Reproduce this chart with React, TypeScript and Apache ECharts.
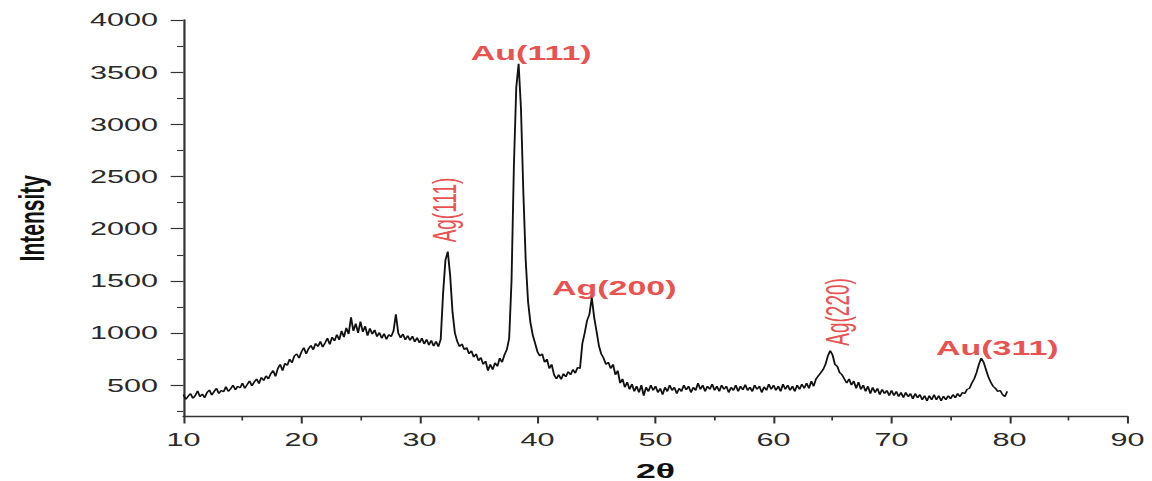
import React, { useEffect, useRef } from "react";
import * as echarts from "echarts";

// 2θ sampling of the scan
const START_THETA = 10;
const STEP_THETA = 0.2;

const seg10to20 = [
  410, 365, 395, 420, 375, 400, 445, 390, 415, 380,
  430, 455, 405, 440, 470, 420, 450, 435, 485, 440,
  465, 500, 455, 490, 475, 520, 470, 505, 540, 495,
  530, 560, 515, 575, 545, 590, 560, 610, 640, 585,
  660, 700, 640, 710, 690, 750, 715, 780, 800, 760,
];
const seg20to30 = [
  820, 860, 800, 850, 880, 840, 900, 870, 920, 865,
  905, 950, 890, 960, 925, 985, 935, 1020, 960, 1050,
  990, 1150, 1020, 1090, 1000, 1110, 1010, 1065, 975, 1045,
  990, 1030, 965, 1005, 950, 995, 940, 985, 965, 1020,
  1180, 1000, 955, 990, 935, 975, 930, 970, 915, 955,
];
const seg30to40 = [
  905, 950, 895, 940, 885, 930, 875, 920, 870, 940,
  1380, 1700, 1780, 1550, 1200, 1000, 920, 870, 895, 840,
  860, 800, 830, 770, 800, 735, 765, 700, 730, 640,
  700, 650, 715, 680, 760, 720, 790, 840, 950, 1500,
  2600, 3350, 3580, 3150, 2350, 1700, 1300, 1100, 980, 900,
];
const seg40to50 = [
  820, 780, 800, 720, 750, 660, 700, 600, 560, 600,
  555, 610, 580, 630, 600, 650, 615, 670, 660, 900,
  1000, 1120, 1180, 1340, 1150, 1020, 880, 800, 760, 700,
  720, 660, 700, 600, 640, 520, 560, 480, 530, 460,
  510, 440, 490, 430, 500, 400, 480, 440, 500, 450,
];
const seg50to60 = [
  490, 430, 470, 410, 480, 440, 500, 450, 480, 420,
  470, 440, 500, 455, 490, 430, 480, 450, 520, 460,
  500, 440, 490, 460, 510, 450, 490, 440, 500, 460,
  490, 430, 480, 450, 500, 440, 490, 455, 505, 450,
  480, 440, 500, 460, 490, 430, 485, 450, 510, 460,
];
const seg60to70 = [
  500, 450, 490, 440, 510, 460, 500, 450, 490, 440,
  500, 460, 510, 470, 520, 470, 540, 490, 560, 590,
  620, 650, 700, 780, 830, 790, 700, 680, 620, 600,
  560, 520, 560, 500, 540, 470, 530, 460, 500, 440,
  490, 420, 480, 430, 470, 410, 460, 420, 450, 400,
];
const seg70to80 = [
  450, 400, 440, 390, 430, 380, 430, 390, 420, 370,
  420, 380, 410, 360, 400, 350, 400, 360, 410, 360,
  400, 350, 395, 360, 400, 370, 410, 380, 420, 390,
  430, 420, 460, 470, 520, 560, 620, 700, 760, 720,
  650, 580, 530, 490, 470, 440, 450, 410, 390, 440,
];

// Axis ticks
const yMajorTicks = [500, 1000, 1500, 2000, 2500, 3000, 3500, 4000];
const yMinorTicks = [250, 750, 1250, 1750, 2250, 2750, 3250, 3750];

// Peak annotations
const peakLabels = ["Au(111)", "Ag(200)", "Au(311)", "Ag(111)", "Ag(220)"];
const peakLabelTheta = [39.47, 46.5, 78.96, 32.18, 65.48];
const peakLabelIntensity = [3684, 1432, 856, 2179, 1202];
const peakLabelVertical = [false, false, false, true, true];

const OUTER_W = 1152;
const OUTER_H = 481;
const STRETCH = 1.7;
const INNER_W = OUTER_W / STRETCH;

export default function App() {
  const ref = useRef<HTMLDivElement>(null);

  useEffect(() => {
    if (!ref.current) return;
    const chart = echarts.init(ref.current, undefined, { renderer: "svg" });
    const intensity = [
      ...seg10to20,
      ...seg20to30,
      ...seg30to40,
      ...seg40to50,
      ...seg50to60,
      ...seg60to70,
      ...seg70to80,
    ];
    const lineData = intensity.map((v, i) => [
      +(START_THETA + i * STEP_THETA).toFixed(1),
      v,
    ]);
    const labelData = peakLabels.map((name, i) => ({
      value: [peakLabelTheta[i], peakLabelIntensity[i]],
      label: peakLabelVertical[i]
        ? { rotate: 90, fontSize: 19, fontWeight: "normal" }
        : { rotate: 0, fontSize: 20, fontWeight: "bold" },
      name,
    }));
    const font = "'Liberation Sans', Arial, sans-serif";
    const axisColor = "#333333";

    chart.setOption({
      animation: false,
      backgroundColor: "#ffffff",
      grid: {
        left: 107.9,
        right: 14.7,
        top: 20,
        bottom: 64.5,
        containLabel: false,
        outerBoundsMode: "none",
      },
      xAxis: {
        type: "value",
        min: 10,
        max: 90,
        interval: 10,
        name: "2θ",
        nameLocation: "middle",
        nameGap: 44,
        nameTextStyle: {
          fontFamily: font,
          fontSize: 21,
          lineHeight: 20,
          fontWeight: "bold",
          color: "#111",
        },
        axisLine: { show: true, lineStyle: { color: axisColor, width: 1.3 } },
        axisTick: { show: true, length: 7, lineStyle: { color: axisColor, width: 1.2 } },
        minorTick: { show: true, splitNumber: 2, length: 4, lineStyle: { color: axisColor, width: 1 } },
        axisLabel: {
          fontFamily: font,
          fontSize: 18,
          color: "#2a2a2a",
          margin: 14,
          formatter: (v: number) => String(v),
        },
        splitLine: { show: false },
      },
      yAxis: [
        {
          type: "value",
          min: 200,
          max: 4000,
          name: "Intensity",
          nameLocation: "middle",
          nameGap: 79,
          nameRotate: 90,
          nameTextStyle: {
            fontFamily: font,
            fontSize: 21,
            fontWeight: "bold",
            color: "#111",
          },
          axisLine: { show: true, lineStyle: { color: axisColor, width: 1.3 } },
          axisTick: {
            show: true,
            length: 7.5,
            customValues: yMajorTicks,
            lineStyle: { color: axisColor, width: 1.2 },
          },
          axisLabel: {
            fontFamily: font,
            fontSize: 18,
            color: "#2a2a2a",
            margin: 15,
            customValues: yMajorTicks,
            formatter: (v: number) => String(v),
          },
          splitLine: { show: false },
        },
        {
          type: "value",
          min: 200,
          max: 4000,
          position: "left",
          axisLine: { show: false },
          axisTick: {
            show: true,
            length: 3.8,
            customValues: yMinorTicks,
            lineStyle: { color: axisColor, width: 1.1 },
          },
          axisLabel: { show: false },
          splitLine: { show: false },
        },
      ],
      series: [
        {
          type: "line",
          data: lineData,
          showSymbol: false,
          symbol: "none",
          lineStyle: { color: "#111111", width: 1.1 },
          silent: true,
        },
        {
          type: "scatter",
          data: labelData,
          symbolSize: 0,
          silent: true,
          label: {
            show: true,
            position: "inside",
            formatter: (p: any) => p.name,
            color: "#e2231f",
            fontFamily: font,
          },
        },
      ],
    });
    return () => chart.dispose();
  }, []);

  return (
    <div
      style={{
        position: "fixed",
        left: 0,
        top: 0,
        width: OUTER_W,
        height: OUTER_H,
        overflow: "hidden",
        background: "#fff",
      }}
    >
      <div
        ref={ref}
        style={{
          width: INNER_W,
          height: OUTER_H,
          transform: `scaleX(${STRETCH})`,
          transformOrigin: "0 0",
        }}
      />
    </div>
  );
}
